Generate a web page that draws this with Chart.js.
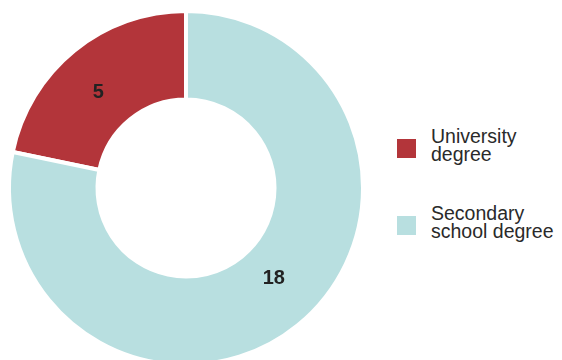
<!DOCTYPE html>
<html>
<head>
<meta charset="utf-8">
<script src="https://cdn.jsdelivr.net/npm/chart.js@4/dist/chart.umd.min.js"></script>
<style>
  html, body { margin: 0; padding: 0; background: #fff; width: 562px; height: 360px; overflow: hidden; }
  #wrap { position: absolute; left: 0; top: 0; width: 372px; height: 376px; }
  .legend { position: absolute; left: 397px; font-family: "Liberation Sans", Arial, sans-serif; font-size: 19.5px; line-height: 18px; color: #2a2a2a; }
  .legend .sw { position: absolute; left: 0; width: 19px; height: 19px; }
  .legend .tx { position: absolute; left: 34px; white-space: nowrap; }
</style>
</head>
<body>
<div id="wrap"><canvas id="c"></canvas></div>
<div id="legend"></div>
<script>
// Degrees held by the group
const categories = ["University degree", "Secondary school degree"];
const legendLines = [["University", "degree"], ["Secondary", "school degree"]];
const counts = [5, 18];
const colors = ["#B3353A", "#B8DFE0"];

const total = counts.reduce((a, b) => a + b, 0);

// value labels drawn inside each ring segment
const labelOffsets = [[-4, 7], [4, -12]];
const valueLabels = {
  id: "valueLabels",
  afterDatasetsDraw(chart) {
    const ctx = chart.ctx;
    const meta = chart.getDatasetMeta(0);
    ctx.save();
    ctx.font = "bold 20px 'Liberation Sans', Arial, sans-serif";
    ctx.fillStyle = "#222";
    ctx.textAlign = "center";
    ctx.textBaseline = "middle";
    meta.data.forEach((arc, i) => {
      const p = arc.tooltipPosition();
      const o = labelOffsets[i] || [0, 0];
      ctx.fillText(String(chart.data.datasets[0].data[i]), p.x + o[0], p.y + o[1]);
    });
    ctx.restore();
  }
};

new Chart(document.getElementById("c"), {
  type: "doughnut",
  data: {
    labels: categories,
    datasets: [{
      data: counts,
      backgroundColor: colors,
      borderColor: "#ffffff",
      borderWidth: 4,
      hoverOffset: 0
    }]
  },
  options: {
    responsive: true,
    maintainAspectRatio: false,
    animation: false,
    rotation: -(counts[0] / total) * 360,
    radius: 177,
    cutout: 92,
    layout: { padding: 0 },
    plugins: {
      legend: { display: false },
      tooltip: { enabled: false }
    }
  },
  plugins: [valueLabels]
});

// legend at the right
const legendTops = [130, 207];
const legendEl = document.getElementById("legend");
categories.forEach((name, i) => {
  const item = document.createElement("div");
  item.className = "legend";
  item.style.top = legendTops[i] + "px";
  item.setAttribute("aria-label", name);
  const sw = document.createElement("div");
  sw.className = "sw";
  sw.style.background = colors[i];
  sw.style.top = "9px";
  const tx = document.createElement("div");
  tx.className = "tx";
  tx.style.top = "-3px";
  tx.innerHTML = legendLines[i].join("<br>");
  item.appendChild(sw);
  item.appendChild(tx);
  legendEl.appendChild(item);
});
</script>
</body>
</html>
